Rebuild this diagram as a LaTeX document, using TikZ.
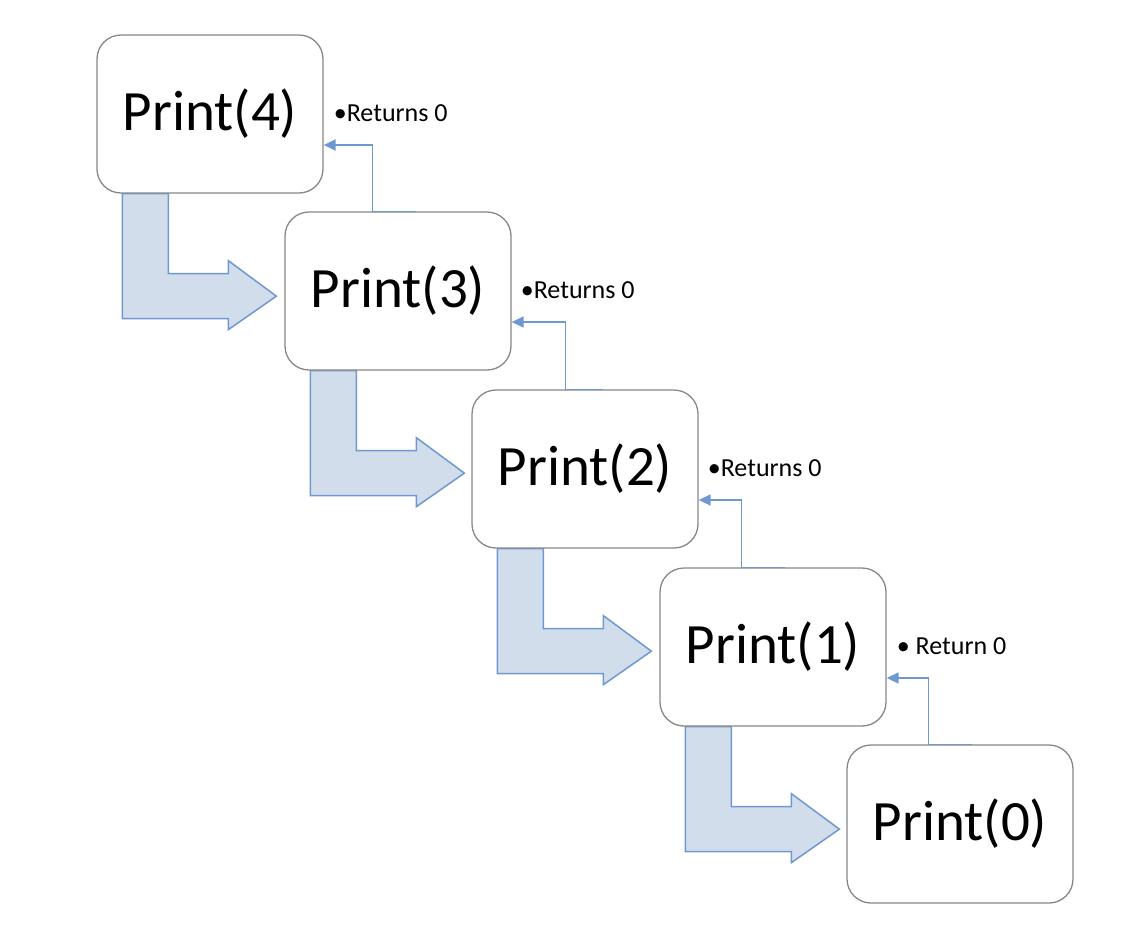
\documentclass[tikz,border=0pt]{standalone}
\usepackage{fontspec}
\setmainfont{Carlito}
\usetikzlibrary{arrows.meta,backgrounds}
\definecolor{arrowfill}{RGB}{210,221,236}
\definecolor{arrowline}{RGB}{112,152,208}
\definecolor{boxline}{RGB}{135,135,135}
\begin{document}
\begin{tikzpicture}[x=1pt,y=-1pt,
  callbox/.style={draw=boxline, line width=1.3pt, rounded corners=24pt, fill=white,
    minimum width=226pt, minimum height=158pt, inner sep=0pt,
    font=\fontsize{57}{62}\selectfont},
  retlabel/.style={anchor=west, inner sep=0pt, font=\fontsize{26}{30}\selectfont},
  bentarrow/.style={draw=arrowline, fill=arrowfill, line width=1.5pt, line join=miter},
  returnline/.style={draw=arrowline, line width=1.5pt, -{Triangle[length=12pt,width=11pt]}}]
\useasboundingbox (0,0) rectangle (1134,930);
\node[callbox] (p4) at (210,114) {Print(4)};
\node[callbox] (p3) at (398,291) {Print(3)};
\node[callbox] (p2) at (585,469) {Print(2)};
\node[callbox] (p1) at (773,647) {Print(1)};
\node[callbox] (p0) at (960,824) {Print(0)};
\begin{scope}[on background layer]
\foreach \p in {4,3,2,1}{
  \draw[bentarrow, shift={(p\p.south west)}]
    (26,0) -- (26,125) -- (132,125) -- (132,136) -- (180,102.5) -- (132,67)
    -- (132,80) -- (72,80) -- (72,0) -- cycle;
}
\end{scope}
\draw[returnline] ([xshift=132pt]p3.north west) -- ([xshift=88pt]p3.north west) |- ([yshift=-31pt]p4.east);
\draw[returnline] ([xshift=132pt]p2.north west) -- ([xshift=94pt]p2.north west) |- ([yshift=-31pt]p3.east);
\draw[returnline] ([xshift=126pt]p1.north west) -- ([xshift=82pt]p1.north west) |- ([yshift=-31pt]p2.east);
\draw[returnline] ([xshift=126pt]p0.north west) -- ([xshift=82pt]p0.north west) |- ([yshift=-31pt]p1.east);
\node[retlabel] (l4) at ([xshift=10pt,yshift=1pt]p4.east) {•Returns 0};
\node[retlabel] (l3) at ([xshift=9pt,yshift=1pt]p3.east) {•Returns 0};
\node[retlabel] (l2) at ([xshift=9pt,yshift=1pt]p2.east) {•Returns 0};
\node[retlabel] (l1) at ([xshift=10pt,yshift=1pt]p1.east) {• Return 0};
\end{tikzpicture}
\end{document}
